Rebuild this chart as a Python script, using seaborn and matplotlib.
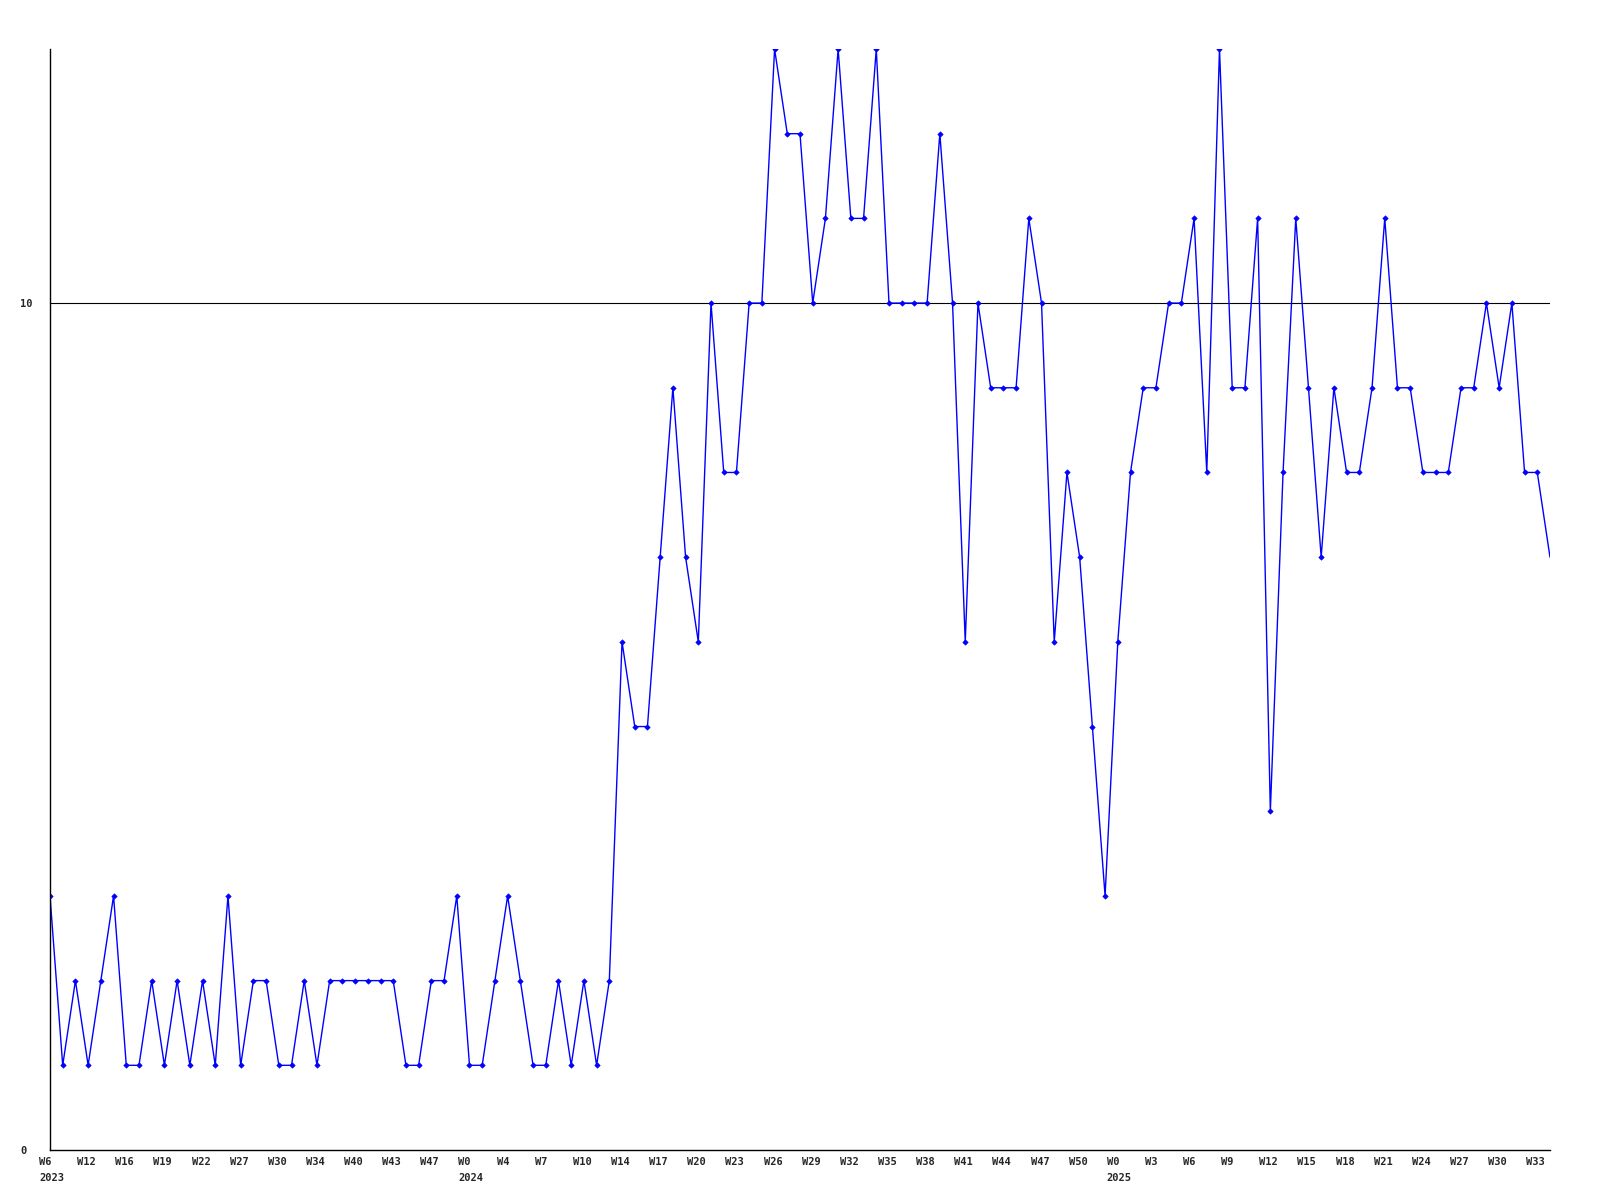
import matplotlib
matplotlib.use("Agg")
import matplotlib.pyplot as plt
import matplotlib.transforms as mtransforms
import pandas as pd
import seaborn as sns

# weekly counts, one point per week
values = [
    3, 1, 2, 1, 2, 3, 1, 1, 2, 1,
    2, 1, 2, 1, 3, 1, 2, 2, 1, 1,
    2, 1, 2, 2, 2, 2, 2, 2, 1, 1,
    2, 2, 3, 1, 1, 2, 3, 2, 1, 1,
    2, 1, 2, 1, 2, 6, 5, 5, 7, 9,
    7, 6, 10, 8, 8, 10, 10, 13, 12, 12,
    10, 11, 13, 11, 11, 13, 10, 10, 10, 10,
    12, 10, 6, 10, 9, 9, 9, 11, 10, 6,
    8, 7, 5, 3, 6, 8, 9, 9, 10, 10,
    11, 8, 13, 9, 9, 11, 4, 8, 11, 9,
    7, 9, 8, 8, 9, 11, 9, 9, 8, 8,
    8, 9, 9, 10, 9, 10, 8, 8, 7,
]

# a label on every third point
week_labels = [
    "W6", "W12", "W16", "W19", "W22", "W27", "W30", "W34", "W40", "W43", "W47",
    "W0", "W4", "W7", "W10", "W14", "W17", "W20", "W23", "W26", "W29", "W32",
    "W35", "W38", "W41", "W44", "W47", "W50",
    "W0", "W3", "W6", "W9", "W12", "W15", "W18", "W21", "W24", "W27", "W30", "W33",
]
year_marks = {0: "2023", 11: "2024", 28: "2025"}
label_step = 3

y_ticks = [0, 10]
y_max = 13

df = pd.DataFrame({"idx": range(len(values)), "value": values})

sns.set_style("white")
plt.rcParams["font.family"] = ["DejaVu Sans Mono"]

fig = plt.figure(figsize=(16, 12), dpi=100)
ax = fig.add_axes([50 / 1600, 50 / 1200, 1500 / 1600, 1101 / 1200])

ax.axhline(10, color="black", linewidth=0.8, zorder=1)
sns.lineplot(
    data=df, x="idx", y="value", ax=ax,
    color="#0000ff", linewidth=1.0,
    marker="D", markersize=2.8,
    markeredgecolor="#0000ff", markeredgewidth=0.4,
    markevery=list(range(len(values) - 1)),
    zorder=2,
)

ax.set_xlim(0, len(values) - 1)
ax.set_ylim(0, y_max)
ax.set_xlabel("")
ax.set_ylabel("")

for side in ["top", "right"]:
    ax.spines[side].set_visible(False)
for side in ["left", "bottom"]:
    ax.spines[side].set_color("black")
    ax.spines[side].set_linewidth(1.0)

# x labels: week, with the year under the first week of each year
positions = [label_step * k for k in range(len(week_labels))]
labels = [
    w + ("\n" + year_marks[k] if k in year_marks else "")
    for k, w in enumerate(week_labels)
]
ax.set_xticks(positions, labels)
ax.tick_params(axis="x", length=0, pad=5, labelsize=7.5)
shift_x = mtransforms.ScaledTranslation(-11 / 100, 0, fig.dpi_scale_trans)
for lab in ax.get_xticklabels():
    lab.set_ha("left")
    lab.set_fontweight("bold")
    lab.set_linespacing(1.8)
    lab.set_transform(lab.get_transform() + shift_x)

ax.set_yticks(y_ticks, [str(v) for v in y_ticks])
ax.tick_params(axis="y", length=0, pad=0, labelsize=7.5)
shift_y = mtransforms.ScaledTranslation(-30 / 100, 0, fig.dpi_scale_trans)
for lab in ax.get_yticklabels():
    lab.set_ha("left")
    lab.set_fontweight("bold")
    lab.set_transform(lab.get_transform() + shift_y)

plt.savefig("out.png", dpi=100, facecolor="white")
plt.close()
